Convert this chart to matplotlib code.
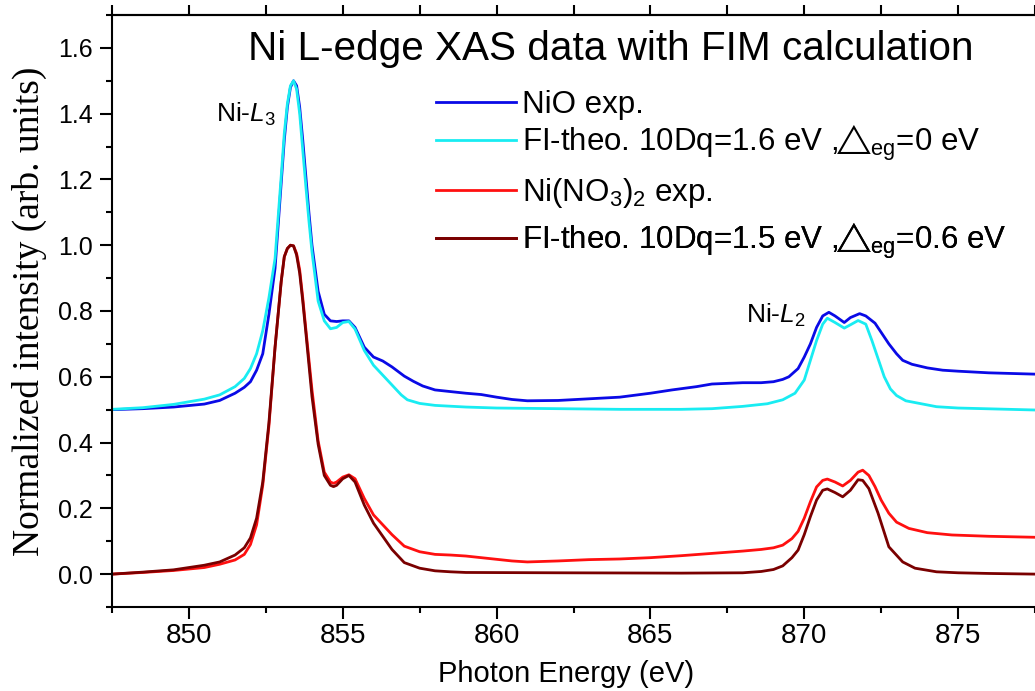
import numpy as np
import matplotlib
matplotlib.use("Agg")
import matplotlib.pyplot as plt
from matplotlib.ticker import MultipleLocator, FormatStrFormatter

plt.rcParams['font.family'] = ['Liberation Sans', 'DejaVu Sans']
plt.rcParams['mathtext.fontset'] = 'custom'
plt.rcParams['mathtext.rm'] = 'Liberation Sans'
plt.rcParams['mathtext.it'] = 'Liberation Sans:italic'
plt.rcParams['mathtext.bf'] = 'Liberation Sans:bold'

# NiO experiment (blue)
e_nio = [847.5, 848.5, 849.5, 850.5, 851.0, 851.5, 851.8, 852.0, 852.2, 852.4, 852.6, 852.8,
         853.0, 853.1, 853.2, 853.3, 853.4, 853.5, 853.6, 853.7, 853.8, 853.9, 854.0, 854.2,
         854.4, 854.6, 854.8, 855.0, 855.2, 855.4, 855.7, 856.0, 856.3, 856.6, 857.0, 857.3,
         857.6, 858.0, 858.5, 859.0, 859.5, 860.0, 860.5, 861.0, 862.0, 863.0, 864.0, 865.0,
         865.7, 866.5, 867.0, 868.0, 868.6, 869.0, 869.3, 869.5, 869.8, 870.0, 870.2, 870.4,
         870.6, 870.8, 871.0, 871.3, 871.5, 871.8, 872.0, 872.3, 872.5, 872.75, 873.0, 873.2,
         873.5, 874.0, 874.5, 875.0, 876.0, 877.5]
i_nio = [0.500, 0.503, 0.508, 0.517, 0.528, 0.550, 0.568, 0.585, 0.620, 0.670, 0.790, 0.930,
         1.190, 1.320, 1.420, 1.480, 1.500, 1.485, 1.420, 1.320, 1.210, 1.100, 1.000, 0.860,
         0.790, 0.770, 0.768, 0.770, 0.770, 0.750, 0.690, 0.660, 0.648, 0.630, 0.602, 0.586,
         0.572, 0.560, 0.555, 0.550, 0.546, 0.538, 0.531, 0.527, 0.528, 0.533, 0.538, 0.550,
         0.560, 0.570, 0.578, 0.582, 0.582, 0.585, 0.592, 0.600, 0.625, 0.660, 0.700, 0.750,
         0.785, 0.796, 0.785, 0.765, 0.780, 0.792, 0.785, 0.763, 0.735, 0.700, 0.670, 0.650,
         0.638, 0.627, 0.620, 0.617, 0.612, 0.608]

# NiO multiplet calculation (cyan)
e_nio_th = [847.5, 848.5, 849.5, 850.5, 851.0, 851.5, 851.8, 852.0, 852.2, 852.4, 852.6, 852.8,
            853.0, 853.1, 853.2, 853.3, 853.4, 853.5, 853.6, 853.7, 853.8, 853.9, 854.0, 854.2,
            854.4, 854.6, 854.8, 855.0, 855.2, 855.4, 855.7, 856.0, 856.3, 856.6, 856.9, 857.1,
            857.5, 858.0, 859.0, 860.0, 862.0, 864.0, 866.0, 867.0, 868.0, 868.8, 869.3, 869.7,
            870.0, 870.2, 870.4, 870.6, 870.75, 871.0, 871.3, 871.5, 871.75, 872.0, 872.2, 872.4,
            872.6, 872.8, 873.0, 873.3, 874.3, 875.0, 877.5]
i_nio_th = [0.501, 0.506, 0.516, 0.532, 0.545, 0.570, 0.595, 0.625, 0.670, 0.740, 0.840, 0.960,
            1.210, 1.340, 1.430, 1.485, 1.500, 1.475, 1.400, 1.290, 1.180, 1.075, 0.980, 0.830,
            0.770, 0.746, 0.750, 0.765, 0.768, 0.745, 0.680, 0.635, 0.605, 0.575, 0.545, 0.530,
            0.519, 0.513, 0.508, 0.505, 0.503, 0.501, 0.501, 0.503, 0.510, 0.518, 0.530, 0.550,
            0.590, 0.650, 0.710, 0.760, 0.778, 0.765, 0.748, 0.758, 0.771, 0.760, 0.710, 0.655,
            0.600, 0.563, 0.543, 0.527, 0.509, 0.505, 0.499]

# Ni(NO3)2 experiment (red)
e_nit = [847.5, 848.5, 849.5, 850.5, 851.0, 851.5, 851.8, 852.0, 852.2, 852.4, 852.6, 852.8,
         853.0, 853.1, 853.2, 853.3, 853.4, 853.5, 853.6, 853.7, 853.8, 854.0, 854.2, 854.4,
         854.6, 854.7, 854.8, 855.0, 855.2, 855.4, 855.7, 856.0, 856.3, 856.6, 857.0, 857.5,
         858.0, 858.5, 859.0, 859.5, 860.0, 860.5, 861.0, 862.0, 863.0, 864.0, 865.0, 866.0,
         867.0, 868.0, 868.6, 869.0, 869.3, 869.6, 869.8, 870.0, 870.2, 870.4, 870.6, 870.75,
         871.0, 871.25, 871.5, 871.75, 871.9, 872.1, 872.3, 872.5, 872.75, 873.0, 873.4, 874.0,
         874.8, 876.0, 877.5]
i_nit = [0.000, 0.005, 0.011, 0.020, 0.030, 0.043, 0.060, 0.090, 0.150, 0.270, 0.450, 0.690,
         0.890, 0.965, 0.990, 1.000, 0.998, 0.975, 0.925, 0.840, 0.745, 0.560, 0.405, 0.310,
         0.280, 0.276, 0.280, 0.295, 0.302, 0.290, 0.230, 0.180, 0.150, 0.120, 0.085, 0.068,
         0.060, 0.058, 0.055, 0.050, 0.045, 0.040, 0.037, 0.040, 0.044, 0.046, 0.050, 0.056,
         0.063, 0.070, 0.075, 0.080, 0.088, 0.108, 0.130, 0.170, 0.220, 0.265, 0.285, 0.289,
         0.280, 0.268, 0.285, 0.310, 0.316, 0.300, 0.266, 0.225, 0.185, 0.158, 0.139, 0.126,
         0.119, 0.115, 0.112]

# Ni(NO3)2 multiplet calculation (dark red)
e_nit_th = [847.5, 848.5, 849.5, 850.5, 851.0, 851.5, 851.8, 852.0, 852.2, 852.4, 852.6, 852.8,
            853.0, 853.1, 853.2, 853.3, 853.4, 853.5, 853.6, 853.7, 853.8, 854.0, 854.2, 854.4,
            854.6, 854.7, 854.8, 855.0, 855.2, 855.4, 855.7, 856.0, 856.3, 856.6, 857.0, 857.5,
            858.0, 858.5, 859.0, 862.0, 866.0, 868.0, 868.6, 869.0, 869.3, 869.6, 869.8, 870.0,
            870.2, 870.4, 870.6, 870.75, 871.0, 871.25, 871.5, 871.75, 871.9, 872.1, 872.4, 872.75,
            873.2, 873.6, 874.3, 875.0, 876.0, 877.5]
i_nit_th = [0.000, 0.006, 0.013, 0.027, 0.037, 0.058, 0.080, 0.110, 0.170, 0.280, 0.460, 0.690,
            0.890, 0.965, 0.990, 1.000, 0.998, 0.970, 0.915, 0.830, 0.735, 0.540, 0.395, 0.300,
            0.270, 0.266, 0.270, 0.290, 0.300, 0.280, 0.210, 0.155, 0.115, 0.075, 0.035, 0.018,
            0.010, 0.007, 0.005, 0.004, 0.003, 0.004, 0.008, 0.014, 0.025, 0.050, 0.073, 0.120,
            0.175, 0.225, 0.255, 0.259, 0.248, 0.235, 0.255, 0.287, 0.285, 0.260, 0.185, 0.083,
            0.037, 0.018, 0.007, 0.004, 0.002, 0.000]

labels = ['NiO exp.',
          r'FI-theo. 10Dq=1.6 eV ,$\!\!\triangle_{\!\!\mathrm{eg}}$=0 eV',
          r'Ni(NO$_3$)$_2$ exp.',
          r'FI-theo. 10Dq=1.5 eV ,$\!\!\triangle_{\!\!\mathrm{eg}}$=0.6 eV']
colors = ['#0a0ae6', '#19ecf2', '#ff1010', '#7a0000']
legend_rows = [105, 143, 193, 241]  # pixel rows of the legend entries

fig = plt.figure(figsize=(10.35, 6.91), dpi=100)
ax = fig.add_axes([112/1035, 1 - 607/691, 923/1035, 592/691])

lw = 2.0
lines = []
lines += ax.plot(e_nio, i_nio, color=colors[0], lw=lw, label=labels[0])
lines += ax.plot(e_nio_th, i_nio_th, color=colors[1], lw=lw, label=labels[1])
lines += ax.plot(e_nit, i_nit, color=colors[2], lw=lw, label=labels[2])
lines += ax.plot(e_nit_th, i_nit_th, color=colors[3], lw=lw, label=labels[3])

ax.set_xlim(847.5, 877.5)
ax.set_ylim(-0.1, 1.7)
ax.xaxis.set_major_locator(MultipleLocator(5))
ax.xaxis.set_minor_locator(MultipleLocator(2.5))
ax.yaxis.set_major_locator(MultipleLocator(0.2))
ax.yaxis.set_minor_locator(MultipleLocator(0.1))
ax.yaxis.set_major_formatter(FormatStrFormatter('%.1f'))

ax.spines['right'].set_visible(False)
for s in ['left', 'bottom', 'top']:
    ax.spines[s].set_linewidth(1.5)
ax.tick_params(which='both', direction='out', width=1.5)
ax.tick_params(which='major', length=8.6)
ax.tick_params(which='minor', length=4.3)
ax.tick_params(axis='x', labelsize=20, pad=3)
ax.tick_params(axis='y', labelsize=18, pad=5)

top = ax.secondary_xaxis('top')
top.set_xticks(np.arange(847.5, 877.6, 2.5))
top.tick_params(direction='out', length=7.5, width=1.5, labeltop=False)
top.spines['top'].set_linewidth(1.5)

ax.set_xlabel('Photon Energy (eV)', fontsize=21)
ax.xaxis.label.set_va('baseline')
ax.xaxis.set_label_coords(0.4924, -0.1267)
ax.set_ylabel('Normalized intensity (arb. units)', fontsize=27,
              family=['Liberation Serif', 'DejaVu Serif'])
ax.yaxis.set_label_coords(-0.0704, 0.5)

fig.text(248/1035, 1 - 60/691, 'Ni L-edge XAS data with FIM calculation',
         fontsize=29.2, ha='left', va='baseline')

ax.text(850.88, 1.3755, r'Ni-$L_3$', fontsize=19, ha='left', va='baseline')
ax.text(868.12, 0.764, r'Ni-$L_2$', fontsize=19, ha='left', va='baseline')

# one legend per row so each entry sits at its own height
for ln, lab, row in zip(lines, labels, legend_rows):
    leg = ax.legend(handles=[ln], labels=[lab], loc='center left',
                    bbox_to_anchor=(436/1035, 1 - row/691),
                    bbox_transform=fig.transFigure, frameon=False, fontsize=22.5,
                    handlelength=2.55, handletextpad=0.2,
                    borderpad=0, borderaxespad=0)
    ax.add_artist(leg)

fig.savefig('out.png', dpi=100)
